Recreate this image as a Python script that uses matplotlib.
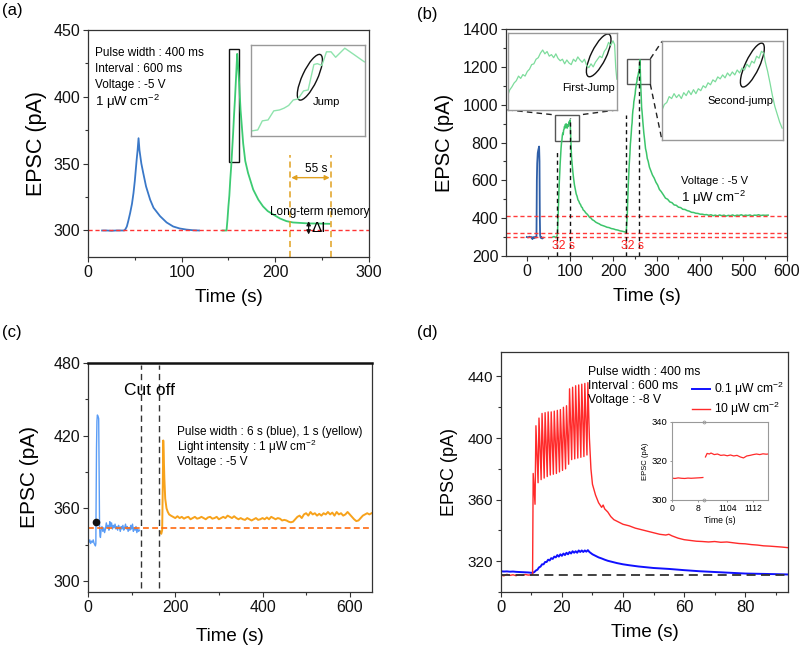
import matplotlib
matplotlib.use('Agg')
import matplotlib.pyplot as plt
from matplotlib.patches import Ellipse, Rectangle
from matplotlib.transforms import ScaledTranslation
from matplotlib.ticker import MultipleLocator, FixedLocator, FixedFormatter

plt.rcParams['font.family'] = ['Liberation Sans', 'DejaVu Sans']
plt.rcParams['mathtext.fontset'] = 'custom'
plt.rcParams['mathtext.rm'] = 'Liberation Sans'
plt.rcParams['mathtext.it'] = 'Liberation Sans:italic'
plt.rcParams['mathtext.bf'] = 'Liberation Sans:bold'

CM2 = r'cm$^{-2}$'

# ---------------- Panel (a) data ----------------
a_blue_t = [15, 20, 25, 30, 35, 38.7, 40, 41.5, 43, 45, 47, 48.6, 50, 52, 53, 54, 55, 57, 59, 62,
            66.4, 70, 77, 84, 91, 98, 105, 112, 118.6]
a_blue_v = [300, 300, 299.8, 300, 300, 300, 301, 303, 307, 313, 320, 328, 337, 353, 360, 369, 360, 350, 343, 333,
            323, 317, 310.7, 306, 303, 301.5, 300.7, 300.2, 300]
a_green_t = [143.8, 146, 148, 149, 150, 151, 152, 153, 154, 155, 156, 157, 158, 159.4, 160.2, 161.5, 163, 165.8,
             168, 171, 176.5, 182, 187, 192, 197.8, 205, 212, 219, 226, 235, 245, 258]
a_green_v = [300, 300, 300, 308, 318, 326, 338, 348, 360, 372, 386, 398, 412, 432, 425, 410, 390, 365,
             352, 343, 330.6, 323, 318, 314.5, 312, 309, 307, 306, 305.7, 305.3, 305.2, 305]
a_baseline = 300
a_ltm_t = [216.2, 259.2]
a_ltm_level = 305
# inset (relative coordinates inside the inset box)
ain_x = [0.01, 0.06, 0.10, 0.15, 0.20, 0.25, 0.29, 0.33, 0.37, 0.41, 0.46, 0.50, 0.55, 0.58, 0.62, 0.66,
         0.70, 0.74, 0.82, 0.90, 0.99]
ain_y = [0.06, 0.07, 0.17, 0.18, 0.28, 0.29, 0.31, 0.34, 0.40, 0.41, 0.50, 0.51, 0.79, 0.80, 0.78, 0.93,
         0.93, 0.87, 0.97, 0.90, 0.82]

# ---------------- Panel (b) data ----------------
b_blue_t = [0, 3, 6, 9, 11, 13, 15, 17, 19, 21, 22.3, 23.2, 24, 25.3, 26.5, 28.4, 29.3, 30, 30.7, 32, 33.8, 35.5, 37.6]
b_blue_v = [300, 298, 302, 299, 300, 289, 300, 294, 301, 297, 300, 600, 690, 745, 760, 779, 700, 420, 310, 296, 300, 292, 296]
b_g1_t = [60, 63, 66, 68, 70, 71, 72, 73, 74, 75, 76, 77, 78, 79, 80, 81, 82, 83, 84, 85,
          86, 87, 88, 89, 90, 91, 92, 93, 94, 95, 96, 97, 98, 99, 100, 100.6, 101.5, 102.5, 103.5, 104.5,
          105.5, 106.5, 108, 110, 112, 114, 116, 118, 120, 122, 124, 126, 128, 130, 133, 136, 139, 142, 145, 148,
          151, 155, 159, 163, 167, 171, 175, 180, 185, 190, 195, 200, 205, 210, 215, 220, 225, 229]
b_g1_v = [300, 303, 298, 301, 306, 330, 400, 462, 530, 590, 638, 690, 728, 768, 796, 812, 838, 850, 842, 866,
          871, 885, 876, 896, 889, 899, 884, 876, 882, 895, 888, 906, 911, 903, 920, 880, 820, 760, 715, 690,
          665, 640, 610, 575, 552, 528, 516, 497, 490, 478, 472, 460, 456, 444, 438, 428, 422, 414, 404, 401,
          392, 387, 379, 374, 370, 364, 361, 357, 352, 350, 345, 343, 339, 337, 333, 331, 328, 325]
b_g2_t = [229, 230, 231, 232, 233, 234, 235, 236, 237, 238, 239, 240, 241, 242, 243, 244, 245, 246, 247, 248,
          249, 250, 251, 252, 253, 254, 255, 256, 257, 258, 259, 260, 261, 262, 263, 264, 265, 266,
          268, 270, 272, 274, 276, 278, 280,
          283, 286, 290, 294, 298, 302, 306, 310,
          315, 320, 325, 330, 335, 340, 345, 350, 355, 360, 365, 370, 375, 380, 385, 390, 395, 400, 405, 410,
          415, 420, 425, 430, 435, 440, 445, 450, 455, 460, 465, 470, 475, 480, 485, 490, 495, 500, 505, 510,
          515, 520, 525, 530, 535, 540, 545, 550,
          557]
b_g2_v = [324, 345, 385, 426, 498, 567, 615, 668, 708, 742, 792, 818, 849, 884, 905, 948, 973, 985, 1016, 1028,
          1044, 1056, 1082, 1094, 1114, 1120, 1142, 1149, 1158, 1172, 1168, 1205, 1238, 1175, 1096, 1045, 985, 962,
          905, 852, 812, 768, 748, 716, 702,
          670, 652, 628, 612, 590, 575, 552, 541,
          524, 506, 500, 486, 482, 470, 468, 458, 456, 447, 446, 440, 437, 431, 430, 426, 425, 421, 421, 418,
          419, 415, 418, 413, 416, 412, 417, 413, 416, 411, 415, 413, 417, 412, 416, 414, 418, 413, 416, 414,
          417, 412, 416, 415, 418, 414, 416, 415,
          416]
b_levels = [300, 323, 412]
b_marks_t = [70, 99, 229.6, 260]
b_marks_top = [757, 929, 946, 1229]
b_gap_label_t = [85, 243]
# insets (relative coordinates)
bin1_x = [0.0, 0.02, 0.04, 0.06, 0.08, 0.10, 0.12, 0.14, 0.16, 0.18, 0.20, 0.22, 0.24, 0.26, 0.28, 0.30, 0.32,
          0.34, 0.36, 0.38, 0.40, 0.42, 0.44, 0.46, 0.48, 0.50, 0.52, 0.54, 0.56, 0.58, 0.60, 0.62, 0.64, 0.66,
          0.68, 0.70, 0.72, 0.74, 0.76, 0.78, 0.80, 0.82, 0.84, 0.86, 0.88, 0.90, 0.92, 0.94, 0.96, 0.975, 0.985, 0.995]
bin1_y = [0.18, 0.26, 0.30, 0.35, 0.38, 0.44, 0.41, 0.46, 0.44, 0.50, 0.53, 0.59, 0.60, 0.66, 0.68, 0.74, 0.78,
          0.73, 0.76, 0.70, 0.72, 0.68, 0.73, 0.67, 0.64, 0.66, 0.60, 0.65, 0.61, 0.59, 0.66, 0.63, 0.69, 0.65,
          0.62, 0.66, 0.58, 0.55, 0.60, 0.56, 0.62, 0.66, 0.70, 0.68, 0.76, 0.80, 0.88, 0.84, 0.90, 0.85, 0.55, 0.40]
bin2_x = [0.00, 0.02, 0.04, 0.06, 0.08, 0.10, 0.12, 0.14, 0.16, 0.18, 0.20, 0.22, 0.24, 0.26, 0.28, 0.30, 0.32,
          0.34, 0.36, 0.38, 0.40, 0.42, 0.44, 0.46, 0.48, 0.50, 0.52, 0.54, 0.56, 0.58, 0.60, 0.62, 0.64, 0.66,
          0.68, 0.70, 0.72, 0.74, 0.76, 0.78, 0.80, 0.82, 0.84, 0.85, 0.87, 0.89, 0.91, 0.93, 0.95, 0.97, 0.99]
bin2_y = [0.30, 0.36, 0.38, 0.44, 0.42, 0.47, 0.43, 0.46, 0.42, 0.48, 0.45, 0.50, 0.46, 0.51, 0.47, 0.52, 0.50,
          0.55, 0.53, 0.58, 0.56, 0.61, 0.59, 0.64, 0.62, 0.66, 0.63, 0.68, 0.65, 0.69, 0.66, 0.71, 0.68, 0.73,
          0.71, 0.77, 0.74, 0.80, 0.78, 0.85, 0.83, 0.90, 0.88, 0.80, 0.70, 0.58, 0.45, 0.34, 0.26, 0.18, 0.12]

# ---------------- Panel (c) data ----------------
c_blue_t = [0, 2, 4, 6, 8, 10, 12, 14, 16,
            17, 18, 18.5, 19.5, 20.5, 21.5, 23, 24.5, 25.5, 26.5, 27.5, 28.5,
            30, 32, 34, 36, 38, 40, 42, 44, 46, 48, 50, 52, 54, 56, 58, 60, 62, 64, 66, 68, 70, 72, 74,
            76, 78, 80, 82, 84, 86, 88, 90, 92, 94, 96, 98, 100, 102, 104, 106, 108, 110, 112, 114, 116, 118]
c_blue_v = [333, 332, 334, 331, 333, 332, 334, 331, 330,
            329, 331, 360, 410, 432, 437, 436, 434, 390, 345, 338, 336,
            342, 345, 341, 344, 340, 343, 348, 344, 346, 342, 349, 345, 348, 343, 346, 344, 347, 343, 345, 342,
            346, 344, 341, 345, 343, 346, 342, 344, 347, 343, 345, 341, 344, 342, 346, 343, 347, 341, 344, 342,
            345, 340, 343, 341, 342]
c_orange_t = [165, 168, 170, 171.5, 172.5, 173.5, 175, 177, 180, 183, 186,
              190, 195, 200, 205, 210, 215, 220, 225, 230, 235, 240, 245, 250, 255, 260, 265, 270, 275, 280, 285,
              290, 295, 300, 305, 310, 315, 320, 325, 330, 335, 340, 345, 350, 355, 360, 365, 370, 375, 380, 385,
              390, 395, 400, 405, 410, 415, 420, 425, 430, 435, 440, 445, 450, 455, 460, 465, 470, 475, 480, 485,
              490, 495, 500, 505, 510, 515, 520, 525, 530, 535, 540, 545, 550, 555, 560, 565, 570, 575, 580, 585,
              590, 595, 600, 605, 610, 615, 620, 625, 630, 635, 640, 645, 650]
c_orange_v = [341, 339, 342, 380, 416, 405, 385, 368, 360, 357, 355,
              354, 353, 352, 353.5, 352, 353, 351.5, 352.5, 353, 351, 352, 353, 351.5, 352, 353, 352, 351, 352.5, 353, 351.5,
              352, 353, 351, 352, 353, 352, 354, 353, 352, 353.5, 352, 351, 352, 351, 350.5, 352, 351, 350, 351, 352,
              350.5, 351, 352, 351, 352.5, 351, 353, 352, 351, 352, 351.5, 350, 350.5, 350, 349, 348.5, 349, 351, 353, 354,
              352, 355, 356, 354, 357, 355, 356, 354, 355.5, 354, 356, 355, 357, 355, 356.5, 354, 357, 355, 356, 354,
              355, 357, 355, 353, 351, 349.5, 350, 352, 354, 355, 356, 355, 356]
c_ref_level = 343.5
c_cut_t = [121, 163]
c_dot = (17.6, 349)

# ---------------- Panel (d) data ----------------
d_blue_t = [0, 1, 2, 3, 4, 5, 6, 7, 8, 9, 10,
            10.5, 11, 11.5, 12, 12.5, 13, 13.5, 14, 14.5, 15, 15.5, 16, 16.5, 17, 17.5, 18, 18.5, 19, 19.5, 20,
            20.5, 21, 21.5, 22, 22.5, 23, 23.5, 24, 24.5, 25, 25.5, 26, 26.5, 27, 27.5, 28, 28.5,
            29, 30, 31, 32, 33, 34, 35, 36,
            38, 40, 42, 45, 48, 50, 55, 60, 65, 70, 75, 80, 85, 90, 94]
d_blue_v = [313.5, 313.3, 313.4, 313.2, 313.3, 313.1, 313, 312.9, 312.8, 312.7, 312.5,
            312.5, 313, 314, 314.5, 316, 316.5, 318, 318, 319.5, 319.5, 321, 320.5, 322, 321.5, 323, 322.5, 324,
            323, 324.5, 323.5, 325, 324, 325.5, 324.5, 326, 325, 326.5, 325.5, 326.5, 325.5, 327, 326, 327, 326,
            327, 326.2, 327.2,
            326, 324.5, 323.5, 322.5, 321.8, 321, 320.3, 319.8,
            318.8, 318, 317.4, 316.6, 316, 315.6, 315, 314.2, 313.5, 313, 312.5, 312, 311.8, 311.6, 311.4]
d_red_t = [0, 1, 2, 3, 4, 5, 6, 7, 8, 9, 10, 10.4,
           10.6, 11.2, 11.5, 12.2, 12.5, 13.2, 13.5, 14.2, 14.5, 15.2, 15.5, 16.2, 16.5, 17.2, 17.5, 18.2, 18.5,
           19.2, 19.5, 20.2, 20.5, 21.2, 21.5, 22.2, 22.5, 23.2, 23.5, 24.2, 24.5, 25.2, 25.5, 26.2, 26.5, 27.2,
           27.5, 28.2, 28.5,
           29, 29.5, 30, 31, 32, 33, 33.5, 34, 35, 36, 37, 38, 39, 40, 42, 44, 46, 48, 50, 52, 54, 55, 56, 58,
           60, 62, 64, 66, 68, 70, 72, 74, 76, 78, 80, 82, 84, 86, 88, 90, 92, 94]
d_red_v = [311, 310.5, 311.5, 310.8, 311.2, 310.6, 311.3, 310.8, 311.4, 311, 311.2, 311.5,
           377, 357, 408, 371, 413, 373, 416, 374, 416.5, 375, 417, 376, 417, 376.5, 417.5, 377, 418, 378, 418.5,
           379, 420, 380, 421, 383, 432, 386, 433, 386.5, 434, 387, 434.5, 387.5, 435, 388, 435.5, 389, 436,
           400, 380, 370, 363, 358, 355, 356.5, 354, 352, 349, 347, 346, 345, 344, 343, 341.5, 340.5, 339.5,
           338.5, 337.5, 337, 337.5, 336.5, 335, 334, 333.5, 333, 332.8, 332.5, 332.8, 332.3, 332.5, 332, 331.5,
           331.3, 330.8, 330.5, 330, 329.8, 329.5, 329.2, 328.8]
d_base = 311
d_series = ['0.1 μW ' + CM2, '10 μW ' + CM2]
# inset (broken time axis)
din_left_t = [0, 1, 2, 3, 4, 5, 6, 7, 8, 9, 9.6]
din_left_v = [311.2, 311.0, 311.3, 311.1, 311.0, 311.2, 311.1, 311.2, 311.3, 311.4, 311.5]
din_right_t = [1097.3, 1097.8, 1098.5, 1099, 1100, 1101, 1102, 1103, 1104, 1105, 1106, 1107, 1108, 1109,
               1110, 1111, 1112, 1113, 1114, 1115, 1116, 1116.6]
din_right_v = [322, 323.8, 323.5, 324, 323.2, 323.5, 322.8, 323, 322.6, 323, 322.5, 322.8, 322, 321.5,
               322.5, 322.8, 323.2, 323.5, 323.2, 323.6, 323.4, 323.5]
din_tick_times = [0, 8, 1104, 1112]
din_tick_labels = ['0', '8', '1104', '1112']
din_break = 9.95
din_offset = 1086.9

# ---------------- Figure ----------------
fig = plt.figure(figsize=(8, 6.48), dpi=100)
axA = fig.add_axes([0.110, 0.603, 0.351, 0.351])
axB = fig.add_axes([0.6325, 0.605, 0.351, 0.350])
axC = fig.add_axes([0.110, 0.0864, 0.355, 0.3536])
axD = fig.add_axes([0.626, 0.0864, 0.359, 0.3706])


def style(ax, xmaj, xmin, ymaj, ymin, fs=11, xfs=None):
    ax.xaxis.set_major_locator(MultipleLocator(xmaj))
    ax.xaxis.set_minor_locator(MultipleLocator(xmin))
    ax.yaxis.set_major_locator(MultipleLocator(ymaj))
    ax.yaxis.set_minor_locator(MultipleLocator(ymin))
    ax.tick_params(which='both', direction='out', color='#333333', labelcolor='#111111')
    ax.tick_params(axis='y', labelsize=fs)
    ax.tick_params(axis='x', labelsize=xfs if xfs else fs)
    ax.tick_params(which='major', length=3.5, width=0.8, pad=2)
    ax.tick_params(which='minor', length=2, width=0.8)
    for s in ax.spines.values():
        s.set_linewidth(0.9)
        s.set_color('#333333')


def ellipse(ax, x, y, w_px, h_px, ang):
    tr = fig.dpi_scale_trans + ScaledTranslation(x, y, ax.transAxes)
    ax.add_patch(Ellipse((0, 0), w_px / 100, h_px / 100, angle=ang, transform=tr,
                         fill=False, ec='#111111', lw=1.0, clip_on=False))


def plain_inset(parent, x0, y0, w, h):
    ins = parent.inset_axes([x0, y0, w, h], transform=parent.transData)
    ins.set_xlim(0, 1)
    ins.set_ylim(0, 1)
    ins.set_xticks([])
    ins.set_yticks([])
    for s in ins.spines.values():
        s.set_color('#999999')
        s.set_linewidth(1.0)
    return ins


# ===== (a) =====
ax = axA
ax.plot(a_blue_t, a_blue_v, color='#3a78c8', lw=1.3)
ax.plot(a_green_t, a_green_v, color='#3dcb72', lw=1.3)
ax.axhline(a_baseline, color='#ff3333', ls=(0, (3, 2)), lw=1.0)
ax.set_xlim(0, 300)
ax.set_ylim(280, 450)
style(ax, 100, 50, 50, 25, fs=11.5)
ax.set_xlabel('Time (s)', fontsize=13.5)
ax.set_ylabel('EPSC (pA)', fontsize=15.5)
ax.xaxis.set_label_coords(0.5, -0.14)
ax.yaxis.set_label_coords(-0.146, 0.5)
ax.add_patch(Rectangle((151, 351), 10.5, 85, fill=False, ec='#111111', lw=1.0))
for t in a_ltm_t:
    ax.plot([t, t], [280, 356.5], color='#e0a020', ls=(0, (4, 2.5)), lw=1.1)
ax.annotate('', xy=(a_ltm_t[0] + 1, 339.5), xytext=(a_ltm_t[1] - 1, 339.5),
            arrowprops=dict(arrowstyle='<|-|>', color='#e0a020', lw=1.0, mutation_scale=7,
                            shrinkA=0, shrinkB=0))
ax.text(243.5, 346, '55 s', fontsize=8.5, ha='center', va='center')
ax.text(194, 314, 'Long-term memory', fontsize=8.5, ha='left', va='center')
ax.annotate('', xy=(235.7, a_baseline - 3), xytext=(235.7, a_ltm_level + 2),
            arrowprops=dict(arrowstyle='<|-|>', color='#111111', lw=0.9, mutation_scale=6,
                            shrinkA=0, shrinkB=0))
ax.text(238.5, 301.8, 'ΔI', fontsize=11, ha='left', va='center')
a_lines = ['Pulse width : 400 ms', 'Interval : 600 ms', 'Voltage : -5 V']
for i, s in enumerate(a_lines):
    ax.text(7.8, 432.5 - 11.9 * i, s, fontsize=8.5, ha='left', va='center')
ax.text(7.8, 396.3, '1 μW ' + CM2, fontsize=9.5, ha='left', va='center')
ins = plain_inset(ax, 174, 370.4, 122.4, 67.9)
ins.plot(ain_x, ain_y, color='#8fe3ad', lw=1.0)
ellipse(ins, 0.515, 0.65, 15, 50, -25)
ins.text(0.66, 0.38, 'Jump', fontsize=8, ha='center', va='center')

# ===== (b) =====
ax = axB
ax.plot(b_blue_t, b_blue_v, color='#2f5fa8', lw=1.3)
ax.plot(b_g1_t, b_g1_v, color='#3cc46a', lw=1.1)
ax.plot(b_g2_t, b_g2_v, color='#3cc46a', lw=1.1)
for lv in b_levels:
    ax.axhline(lv, color='#ff3b3b', ls=(0, (3, 2)), lw=1.0)
for t, top in zip(b_marks_t, b_marks_top):
    ax.plot([t, t], [200, top], color='#111111', ls=(0, (3, 2.5)), lw=1.0)
for t in b_gap_label_t:
    ax.text(t, 253, '32 s', color='#ff2020', fontsize=8.7, ha='center', va='center')
ax.set_xlim(-48, 600)
ax.set_ylim(200, 1400)
style(ax, 100, 50, 200, 100, fs=11.5)
ax.set_xlabel('Time (s)', fontsize=13.5)
ax.set_ylabel('EPSC (pA)', fontsize=14.5)
ax.xaxis.set_label_coords(0.5, -0.14)
ax.yaxis.set_label_coords(-0.184, 0.5)
ax.add_patch(Rectangle((66, 809), 54.6, 137, fill=False, ec='#555555', lw=1.0))
ax.add_patch(Rectangle((232, 1109), 53, 134, fill=False, ec='#555555', lw=1.0))
ax.plot([-44.5, 66], [973, 946], color='#222222', ls=(0, (4, 3)), lw=1.0)
ax.plot([209, 120.6], [973, 946], color='#222222', ls=(0, (4, 3)), lw=1.0)
ax.plot([285, 311.8], [1243, 1335], color='#222222', ls=(0, (4, 3)), lw=1.0)
ax.plot([285, 311.8], [1109, 814], color='#222222', ls=(0, (4, 3)), lw=1.0)
ax.text(356, 596, 'Voltage : -5 V', fontsize=8, ha='left', va='center')
ax.text(356, 505, '1 μW ' + CM2, fontsize=9.5, ha='left', va='center')
ins1 = plain_inset(ax, -44.5, 973, 253.5, 406)
ins1.plot(bin1_x, bin1_y, color='#7ddc9c', lw=0.9)
ellipse(ins1, 0.83, 0.71, 15, 47, -26)
ins1.text(0.74, 0.28, 'First-Jump', fontsize=8, ha='center', va='center')
ins2 = plain_inset(ax, 311.8, 814, 280.2, 521)
ins2.plot(bin2_x, bin2_y, color='#7ddc9c', lw=0.9)
ellipse(ins2, 0.745, 0.76, 14, 48, -25)
ins2.text(0.65, 0.40, 'Second-jump', fontsize=8, ha='center', va='center')

# ===== (c) =====
ax = axC
ax.plot(c_blue_t, c_blue_v, color='#5a9cf5', lw=1.0)
ax.plot(c_orange_t, c_orange_v, color='#f7a21b', lw=1.4)
ax.plot([0, 644], [c_ref_level, c_ref_level], color='#ff6a10', ls=(0, (3.5, 2)), lw=1.2)
for t in c_cut_t:
    ax.plot([t, t], [294, 478], color='#333333', ls=(0, (4.5, 3)), lw=1.0)
ax.plot([c_dot[0]], [c_dot[1]], 'o', color='#111111', ms=4.5)
ax.set_xlim(0, 651)
ax.set_ylim(291, 480)
style(ax, 200, 100, 60, 30, fs=11.5)
ax.spines['top'].set_linewidth(1.8)
ax.spines['top'].set_color('#111111')
ax.set_xlabel('Time (s)', fontsize=13.5)
ax.set_ylabel('EPSC (pA)', fontsize=15)
ax.xaxis.set_label_coords(0.5, -0.155)
ax.yaxis.set_label_coords(-0.171, 0.5)
ax.text(140, 457.4, 'Cut off', fontsize=12.5, ha='center', va='center')
c_lines = ['Pulse width : 6 s (blue), 1 s (yellow)', 'Light intensity : 1 μW ' + CM2, 'Voltage : -5 V']
for i, s in enumerate(c_lines):
    ax.text(203, 423 - 12.4 * i, s, fontsize=8.5, ha='left', va='center')

# ===== (d) =====
ax = axD
l1, = ax.plot(d_blue_t, d_blue_v, color='#1010ff', lw=1.4)
l2, = ax.plot(d_red_t, d_red_v, color='#ff2a2a', lw=1.0)
ax.axhline(d_base, color='#333333', ls=(0, (5, 3)), lw=1.3)
ax.set_xlim(0, 94)
ax.set_ylim(300, 456)
style(ax, 20, 10, 40, 20, fs=11, xfs=12)
ax.set_xlabel('Time (s)', fontsize=13.5)
ax.set_ylabel('EPSC (pA)', fontsize=13)
ax.xaxis.set_label_coords(0.5, -0.135)
ax.yaxis.set_label_coords(-0.148, 0.5)
d_lines = ['Pulse width : 400 ms', 'Interval : 600 ms', 'Voltage : -8 V']
for i, s in enumerate(d_lines):
    ax.text(28.7, 443.2 - 9.2 * i, s, fontsize=8.7, ha='left', va='center')
leg = fig.legend([l1, l2], d_series, loc='upper left', bbox_to_anchor=(0.8645, 1 - 380 / 648),
                 frameon=False, fontsize=8.7, handlelength=1.5, handletextpad=0.35,
                 labelspacing=0.15, borderpad=0, borderaxespad=0)
ind = fig.add_axes([0.8396, 0.2284, 0.1208, 0.1208])
ind.plot(din_left_t, din_left_v, color='#ff2a2a', lw=0.9)
ind.plot([t - din_offset for t in din_right_t], din_right_v, color='#ff2a2a', lw=0.9)
ind.set_xlim(0, 29.74)
ind.set_ylim(300, 340)
ind.xaxis.set_major_locator(FixedLocator([t if t < din_break else t - din_offset for t in din_tick_times]))
ind.xaxis.set_major_formatter(FixedFormatter(din_tick_labels))
ind.yaxis.set_major_locator(FixedLocator([300, 320, 340]))
ind.tick_params(axis='y', labelsize=6.8, length=1.5, width=0.6, pad=1.5, color='#888888')
ind.tick_params(axis='x', labelsize=6.2, length=1.5, width=0.6, pad=1.5, color='#888888')
for s in ind.spines.values():
    s.set_color('#999999')
    s.set_linewidth(0.8)
ind.set_xlabel('Time (s)', fontsize=6.2, labelpad=2)
ind.set_ylabel('EPSC (pA)', fontsize=5.5, labelpad=2)
ind.plot([din_break, din_break], [340, 340], marker='o', ms=2, mfc='white', mec='#999999', mew=0.5, clip_on=False)
ind.plot([din_break, din_break], [300, 300], marker='o', ms=2, mfc='white', mec='#999999', mew=0.5, clip_on=False)

# panel labels
fig.text(0.003, 1 - 3 / 648, '(a)', fontsize=12, va='top', ha='left')
fig.text(0.521, 1 - 7 / 648, '(b)', fontsize=12, va='top', ha='left')
fig.text(0.003, 1 - 325 / 648, '(c)', fontsize=12, va='top', ha='left')
fig.text(0.521, 1 - 325 / 648, '(d)', fontsize=12, va='top', ha='left')

fig.savefig('out.png', dpi=100)
